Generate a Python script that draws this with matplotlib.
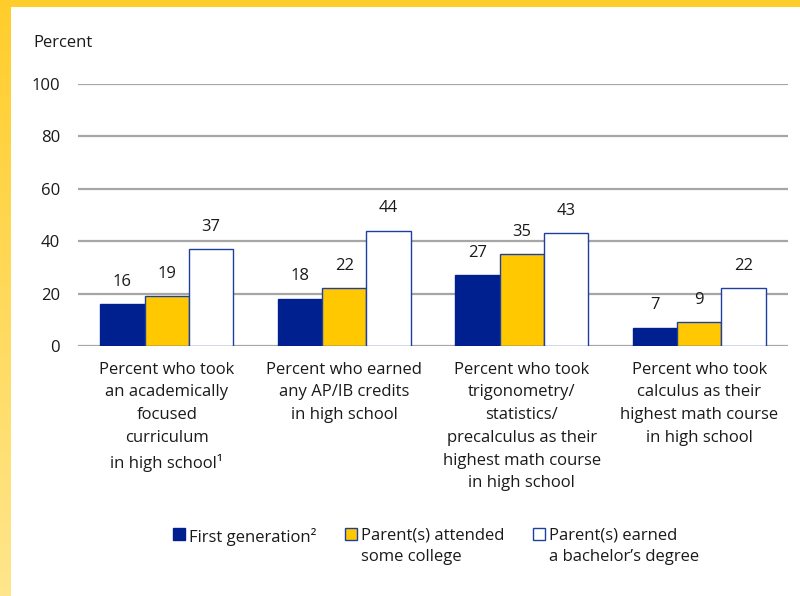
import matplotlib.pyplot as plt
import matplotlib.patches as mpatches
import numpy as np

categories = [
    "Percent who took\nan academically\nfocused\ncurriculum\nin high school\u00b9",
    "Percent who earned\nany AP/IB credits\nin high school",
    "Percent who took\ntrigonometry/\nstatistics/\nprecalculus as their\nhighest math course\nin high school",
    "Percent who took\ncalculus as their\nhighest math course\nin high school",
]
series_names = [
    "First generation\u00b2",
    "Parent(s) attended\nsome college",
    "Parent(s) earned\na bachelor\u2019s degree",
]
first_gen = [16, 18, 27, 7]
some_college = [19, 22, 35, 9]
bachelors = [37, 44, 43, 22]
yticks = [0, 20, 40, 60, 80, 100]

NAVY = "#00208f"
GOLD = "#ffc800"
EDGE = "#1e3fa0"
GRID = "#a6a6a6"
TXT = "#1a1a1a"
FS = 12

plt.rcParams["font.family"] = ["Open Sans", "DejaVu Sans"]

fig = plt.figure(figsize=(8, 5.96), dpi=100)

# yellow frame: top strip and left gradient strip
bg = fig.add_axes([0, 0, 1, 1], zorder=-10)
bg.axis("off")
grad = np.linspace(0, 1, 200).reshape(-1, 1)
top_c = np.array([255, 205, 43]) / 255
bot_c = np.array([255, 230, 140]) / 255
img = top_c + (bot_c - top_c) * grad[..., None]
bg.imshow(img, extent=[0, 11, 596, 0], aspect="auto")
bg.add_patch(mpatches.Rectangle((0, 0), 800, 7, color="#ffcd2b", lw=0))
bg.set_xlim(0, 800)
bg.set_ylim(596, 0)

ax = fig.add_axes([78 / 800, 1 - 346 / 596, 710 / 800, 262 / 596])
x = np.arange(len(categories))
w = 0.25
data = [first_gen, some_college, bachelors]
faces = [NAVY, GOLD, "white"]
edges = [NAVY, EDGE, EDGE]
for i, (vals, fc, ec) in enumerate(zip(data, faces, edges)):
    pos = x + (i - 1) * w
    ax.bar(pos, vals, w, color=fc, edgecolor=ec, linewidth=1.0, zorder=3)
    for p, v in zip(pos, vals):
        ax.text(p, v + 5.5, str(v), ha="center", va="bottom", fontsize=FS, color=TXT)

ax.set_xlim(-0.5, 3.5)
ax.set_ylim(0, 100)
ax.set_yticks(yticks)
ax.set_yticklabels([str(t) for t in yticks], fontsize=FS, color=TXT)
ax.tick_params(axis="y", length=0, pad=13)
ax.set_xticks([])
for s in ax.spines.values():
    s.set_visible(False)
ax.grid(axis="y", color=GRID, linewidth=1.6, zorder=0)
ax.set_axisbelow(True)

for xi, lab in zip(x, categories):
    ax.text(xi, -6, lab, ha="center", va="top", fontsize=FS, color=TXT,
            linespacing=1.56)

fig.text(33 / 800, 1 - 43 / 596, "Percent", fontsize=FS, color=TXT, va="center")

handles = [
    mpatches.Patch(facecolor=NAVY, edgecolor=NAVY),
    mpatches.Patch(facecolor=GOLD, edgecolor=EDGE),
    mpatches.Patch(facecolor="white", edgecolor=EDGE),
]
leg = fig.legend(handles, series_names, loc="upper center", ncol=3,
                 bbox_to_anchor=(0.545, 1 - 513 / 596), frameon=False,
                 fontsize=FS, handlelength=0.72, handleheight=0.72,
                 handletextpad=0.2, columnspacing=1.75)
for t in leg.get_texts():
    t.set_color(TXT)
    t.set_linespacing(1.42)
for h in leg.legend_handles:
    h.set_linewidth(1.0)
# put each marker next to the first line of its label, columns top-aligned
leg._legend_box.align = "top"
row = leg._legend_box.get_children()[1]
row.align = "top"
for col in row.get_children():
    col.align = "left"
    for item in col.get_children():
        item.align = "top"

fig.savefig("out.png", dpi=100)
